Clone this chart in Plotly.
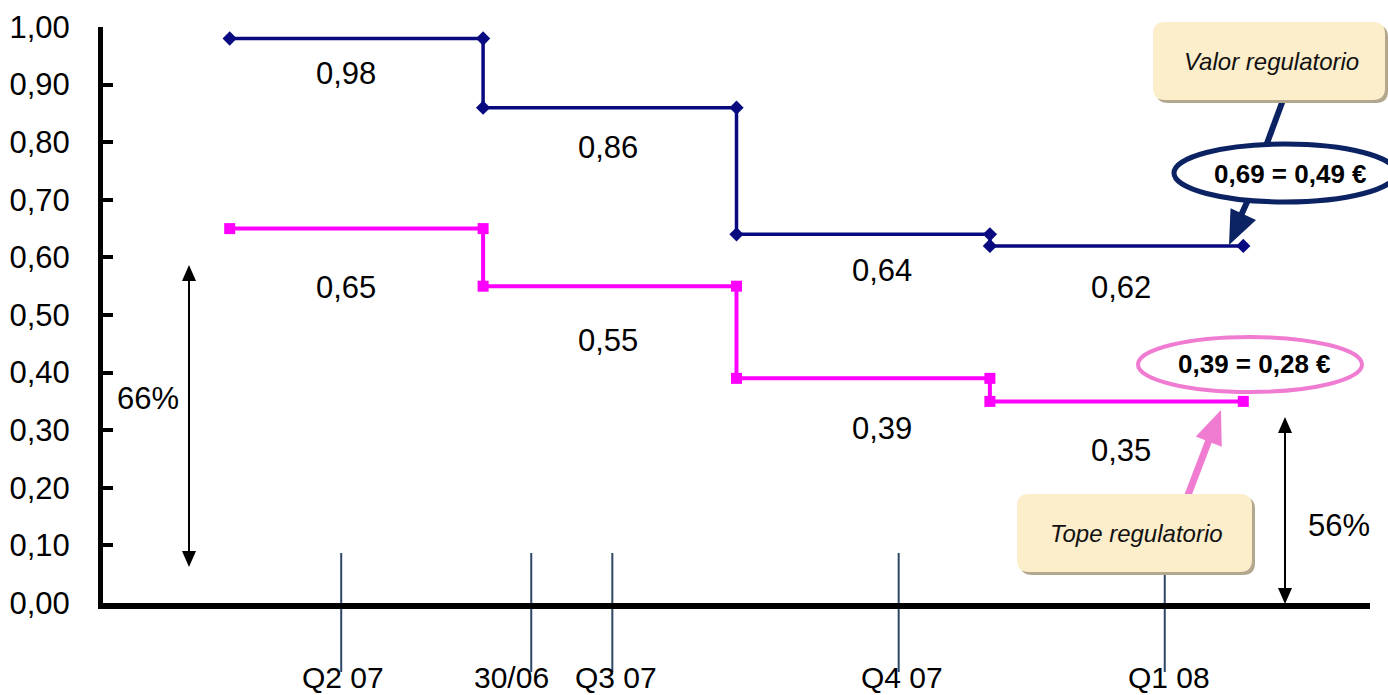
import plotly.graph_objects as go

# ---------------- data ----------------
period_start = [0.5, 1.5, 2.5, 3.5]
valor_values = [0.98, 0.86, 0.64, 0.62]
tope_values = [0.65, 0.55, 0.39, 0.35]
y_ticks = [0.0, 0.1, 0.2, 0.3, 0.4, 0.5, 0.6, 0.7, 0.8, 0.9, 1.0]
timeline_labels = ["Q2 07", "30/06", "Q3 07", "Q4 07", "Q1 08"]
timeline_x = [0.94, 1.69, 2.01, 3.14, 4.19]
pct_labels = ["66%", "56%"]
valor_callout = "0,69 = 0,49 €"
tope_callout = "0,39 = 0,28 €"

# ---------------- layout constants ----------------
FIG_W, FIG_H = 1388, 695
L, R, T, B = 103, 18, 27, 92
W = FIG_W - L - R
H = FIG_H - T - B
BOT = FIG_H - B
FONT = "Arial, Liberation Sans, sans-serif"
NAVY = "#0A0A80"
PINK = "#FF00FF"
CALL_NAVY = "#0B2263"
CALL_PINK = "#F07CD2"
BOX_FILL = "#FCEDCB"
SHADOW = "#B3A78E"


def PX(px):
    return (px - L) / W


def PY(py):
    return (BOT - py) / H


def steps(values):
    xs, ys = [], []
    for s, v in zip(period_start, values):
        xs += [s, s + 1]
        ys += [v, v]
    return xs, ys


fig = go.Figure()
vx, vy = steps(valor_values)
tx, ty = steps(tope_values)
fig.add_trace(go.Scatter(x=vx, y=vy, mode="lines+markers",
                         line=dict(color=NAVY, width=3.5),
                         marker=dict(symbol="diamond", size=11, color=NAVY),
                         showlegend=False, hoverinfo="skip"))
fig.add_trace(go.Scatter(x=tx, y=ty, mode="lines+markers",
                         line=dict(color=PINK, width=4),
                         marker=dict(symbol="square", size=11, color=PINK),
                         showlegend=False, hoverinfo="skip"))

annotations = []
shapes = []


def ptext(px, py, text, size, color="#000"):
    annotations.append(dict(x=PX(px), y=PY(py), xref="paper", yref="paper",
                            text=text, showarrow=False, xanchor="center",
                            yanchor="middle",
                            font=dict(family=FONT, size=size, color=color)))


# value labels under each step
label_xshift = [-10, -2, 19, 4]
valor_yshift = [-35, -40, -36, -42]
tope_yshift = [-59, -54, -50, -49]
for vals, ysh in ((valor_values, valor_yshift), (tope_values, tope_yshift)):
    for s, v, xs_, ys_ in zip(period_start, vals, label_xshift, ysh):
        annotations.append(dict(x=s + 0.5, y=v, xref="x", yref="y",
                                text=f"{v:.2f}".replace(".", ","),
                                showarrow=False, xshift=xs_, yshift=ys_,
                                xanchor="center", yanchor="middle",
                                font=dict(family=FONT, size=31, color="#000")))

# timeline ticks and labels
tl_xshift = [2, -20, 4, 3, 4]
for lab, xv, xs_ in zip(timeline_labels, timeline_x, tl_xshift):
    shapes.append(dict(type="line", xref="x", yref="paper", x0=xv, x1=xv,
                       y0=PY(553), y1=PY(672),
                       line=dict(color="#2F4766", width=2), layer="below"))
    annotations.append(dict(x=xv, y=PY(677), xref="x", yref="paper", text=lab,
                            showarrow=False, xshift=xs_, xanchor="center",
                            yanchor="middle",
                            font=dict(family=FONT, size=30, color="#000")))


def tri(tipx, tipy, dx, dy, length, half):
    bx, by = tipx - dx * length, tipy - dy * length
    nx, ny = -dy, dx
    p1 = (bx + nx * half, by + ny * half)
    p2 = (bx - nx * half, by - ny * half)
    return (f"M {PX(tipx)},{PY(tipy)} L {PX(p1[0])},{PY(p1[1])} "
            f"L {PX(p2[0])},{PY(p2[1])} Z")


def darrow(x, ytop, ybot, color="#000"):
    shapes.append(dict(type="line", xref="paper", yref="paper",
                       x0=PX(x), x1=PX(x), y0=PY(ytop + 12), y1=PY(ybot - 12),
                       line=dict(color=color, width=2)))
    for path in (tri(x, ytop, 0, -1, 16, 7), tri(x, ybot, 0, 1, 16, 7)):
        shapes.append(dict(type="path", xref="paper", yref="paper", path=path,
                           fillcolor=color, line=dict(width=0)))


darrow(189, 265, 567)
darrow(1285, 417, 604)
ptext(148, 398, pct_labels[0], 31)
ptext(1339, 525, pct_labels[1], 31)


def rrect(x0, y0, x1, y1, r):
    rx, ry = r / W, r / H
    X0, X1, Y0, Y1 = PX(x0), PX(x1), PY(y1), PY(y0)
    return (f"M {X0+rx},{Y1} L {X1-rx},{Y1} Q {X1},{Y1} {X1},{Y1-ry} "
            f"L {X1},{Y0+ry} Q {X1},{Y0} {X1-rx},{Y0} L {X0+rx},{Y0} "
            f"Q {X0},{Y0} {X0},{Y0+ry} L {X0},{Y1-ry} Q {X0},{Y1} {X0+rx},{Y1} Z")


def box(x0, y0, x1, y1, text):
    shapes.append(dict(type="path", xref="paper", yref="paper",
                       path=rrect(x0 + 3, y0 + 3, x1 + 3, y1 + 3, 12),
                       fillcolor=SHADOW, line=dict(width=0)))
    shapes.append(dict(type="path", xref="paper", yref="paper",
                       path=rrect(x0, y0, x1, y1, 12),
                       fillcolor=BOX_FILL, line=dict(width=0)))
    ptext((x0 + x1) / 2 + 2, (y0 + y1) / 2, f"<i>{text}</i>", 24, "#111")


# navy callout: box -> ellipse -> arrow
shapes.append(dict(type="line", xref="paper", yref="paper",
                   x0=PX(1283), y0=PY(100), x1=PX(1266), y1=PY(146),
                   line=dict(color=CALL_NAVY, width=6)))
shapes.append(dict(type="line", xref="paper", yref="paper",
                   x0=PX(1248), y0=PY(200), x1=PX(1238), y1=PY(222),
                   line=dict(color=CALL_NAVY, width=6)))
shapes.append(dict(type="path", xref="paper", yref="paper",
                   path=tri(1229, 245, -0.42, 0.91, 34, 14),
                   fillcolor=CALL_NAVY, line=dict(width=0)))
box(1153, 22, 1385, 100, "Valor regulatorio")
shapes.append(dict(type="circle", xref="paper", yref="paper",
                   x0=PX(1174), x1=PX(1396), y0=PY(202), y1=PY(144),
                   fillcolor="white", line=dict(color=CALL_NAVY, width=5)))
ptext(1290, 174, f"<b>{valor_callout}</b>", 26)

# pink callout
shapes.append(dict(type="line", xref="paper", yref="paper",
                   x0=PX(1188), y0=PY(495), x1=PX(1209), y1=PY(440),
                   line=dict(color=CALL_PINK, width=7)))
shapes.append(dict(type="path", xref="paper", yref="paper",
                   path=tri(1221, 410, 0.36, -0.93, 34, 14),
                   fillcolor=CALL_PINK, line=dict(width=0)))
box(1017, 494, 1252, 572, "Tope regulatorio")
shapes.append(dict(type="circle", xref="paper", yref="paper",
                   x0=PX(1138), x1=PX(1362), y0=PY(392), y1=PY(337),
                   fillcolor="rgba(255,255,255,0)", line=dict(color=CALL_PINK, width=4)))
ptext(1254, 364, f"<b>{tope_callout}</b>", 26)

fig.update_layout(
    width=FIG_W, height=FIG_H,
    margin=dict(l=L, r=R, t=T, b=B, autoexpand=False),
    paper_bgcolor="white", plot_bgcolor="white",
    separators=", ",
    showlegend=False,
    shapes=shapes, annotations=annotations,
    xaxis=dict(range=[0, 5], showgrid=False, zeroline=False, showticklabels=False,
               ticks="", showline=True, linecolor="#000", linewidth=6,
               fixedrange=True),
    yaxis=dict(range=[0, 1.0], tickvals=y_ticks, tickformat=".2f",
               showgrid=False, zeroline=False, showline=True, linecolor="#000",
               linewidth=5, ticks="inside", ticklen=10, tickwidth=4,
               tickcolor="#000", ticklabelstandoff=22,
               tickfont=dict(family=FONT, size=31, color="#000"),
               fixedrange=True),
)

fig.write_html("out.html",
               config={"displayModeBar": False},
               post_script="document.body.style.margin='0';"
                           "document.body.style.overflow='hidden';")
